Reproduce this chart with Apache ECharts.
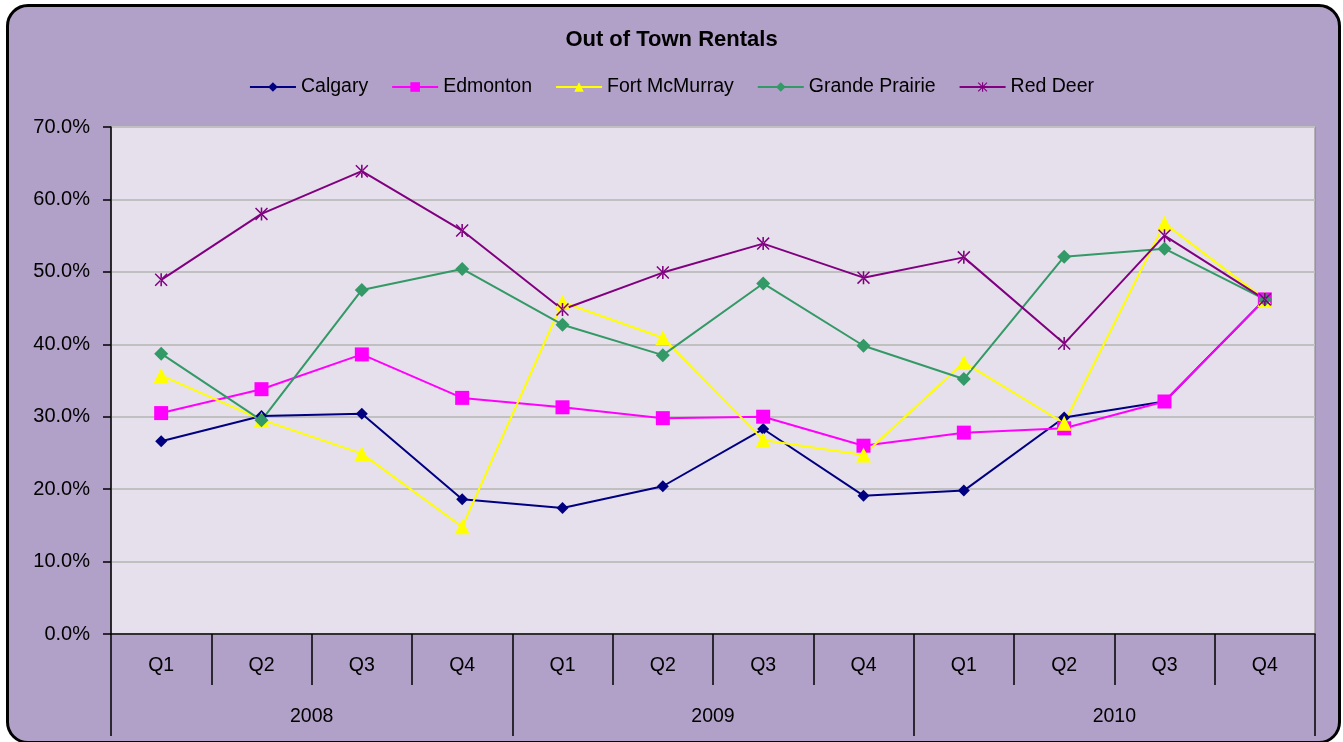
<!DOCTYPE html>
<html>
<head>
<meta charset="utf-8">
<script src="https://cdn.jsdelivr.net/npm/echarts@6/dist/echarts.min.js"></script>
<style>
html,body{margin:0;padding:0;background:#fff;}
#frame{position:absolute;left:6px;top:4px;width:1329px;height:734px;border:3px solid #000;border-radius:22px;background:#B1A0C7;}
#chart{position:absolute;left:0;top:0;width:1343px;height:742px;}
</style>
</head>
<body>
<div id="frame"></div>
<div id="chart"></div>
<script>
const quarters = ['Q1','Q2','Q3','Q4','Q1','Q2','Q3','Q4','Q1','Q2','Q3','Q4'];
const years = ['2008','2009','2010'];
const calgary = [26.6, 30.1, 30.4, 18.6, 17.4, 20.4, 28.3, 19.1, 19.8, 29.9, 32.1, 46.2];
const edmonton = [30.5, 33.8, 38.6, 32.6, 31.3, 29.8, 30.0, 26.0, 27.8, 28.4, 32.1, 46.2];
const fortMcMurray = [35.7, 29.6, 24.9, 14.8, 45.8, 40.9, 26.8, 24.7, 37.5, 29.1, 56.7, 46.2];
const grandePrairie = [38.7, 29.5, 47.5, 50.4, 42.7, 38.5, 48.4, 39.8, 35.2, 52.1, 53.2, 46.2];
const redDeer = [48.9, 58.0, 63.9, 55.7, 44.8, 49.9, 53.9, 49.2, 52.0, 40.1, 55.0, 46.2];
const yTicks = [0, 10, 20, 30, 40, 50, 60, 70];

const asterisk = 'path://M4.4 0L5.6 0L5.6 10L4.4 10Z M0 0.8L0.8 0L10 9.2L9.2 10Z M10 0.8L9.2 0L0 9.2L0.8 10Z';
const font = 'Arial, "Liberation Sans", sans-serif';

function mk(name, data, color, symbol, size) {
  return {
    name: name, type: 'line', data: data, xAxisIndex: 0,
    symbol: symbol, symbolSize: size,
    lineStyle: {color: color, width: 2},
    itemStyle: {color: color},
    emphasis: {disabled: true},
    animation: false
  };
}

const chart = echarts.init(document.getElementById('chart'));
chart.setOption({
  backgroundColor: 'transparent',
  animation: false,
  textStyle: {fontFamily: font},
  title: {
    text: 'Out of Town Rentals', left: 'center', top: 24,
    textStyle: {fontFamily: font, fontSize: 22, fontWeight: 'bold', color: '#000'}
  },
  legend: {
    top: 72, left: 'center', itemWidth: 46, itemHeight: 12, itemGap: 23,
    textStyle: {fontFamily: font, fontSize: 19.5, color: '#000'},
    data: ['Calgary','Edmonton','Fort McMurray','Grande Prairie','Red Deer']
  },
  grid: {
    left: 111, right: 28, top: 127, bottom: 108,
    show: true, backgroundColor: '#E6E0EC', borderColor: '#808080', borderWidth: 1
  },
  xAxis: [
    {
      type: 'category', data: quarters, position: 'bottom', boundaryGap: true,
      axisLine: {lineStyle: {color: '#000', width: 1.5}},
      axisTick: {show: true, length: 51, interval: 0, lineStyle: {color: '#000', width: 1.5}},
      axisLabel: {interval: 0, margin: 22, fontSize: 19.5, color: '#000', fontFamily: font},
      splitLine: {show: false}
    },
    {
      type: 'category', data: years, position: 'bottom', boundaryGap: true,
      axisLine: {show: false},
      axisTick: {show: true, length: 102, interval: 0, lineStyle: {color: '#000', width: 1.5}},
      axisLabel: {interval: 0, margin: 73, fontSize: 19.5, color: '#000', fontFamily: font},
      splitLine: {show: false}
    }
  ],
  yAxis: {
    type: 'value', min: yTicks[0], max: yTicks[yTicks.length - 1], interval: 10,
    axisLine: {show: true, lineStyle: {color: '#000', width: 1.5}},
    axisTick: {show: true, length: 8, lineStyle: {color: '#000', width: 1.5}},
    axisLabel: {margin: 21, fontSize: 20, color: '#000', fontFamily: font,
      formatter: v => v.toFixed(1) + '%'},
    splitLine: {lineStyle: {color: '#C0C0C0', width: 2}}
  },
  series: [
    mk('Calgary', calgary, '#000080', 'diamond', 12),
    mk('Edmonton', edmonton, '#FF00FF', 'rect', 14),
    mk('Fort McMurray', fortMcMurray, '#FFFF00', 'triangle', 15),
    mk('Grande Prairie', grandePrairie, '#339966', 'diamond', 14),
    mk('Red Deer', redDeer, '#800080', asterisk, 13)
  ]
});
</script>
</body>
</html>
